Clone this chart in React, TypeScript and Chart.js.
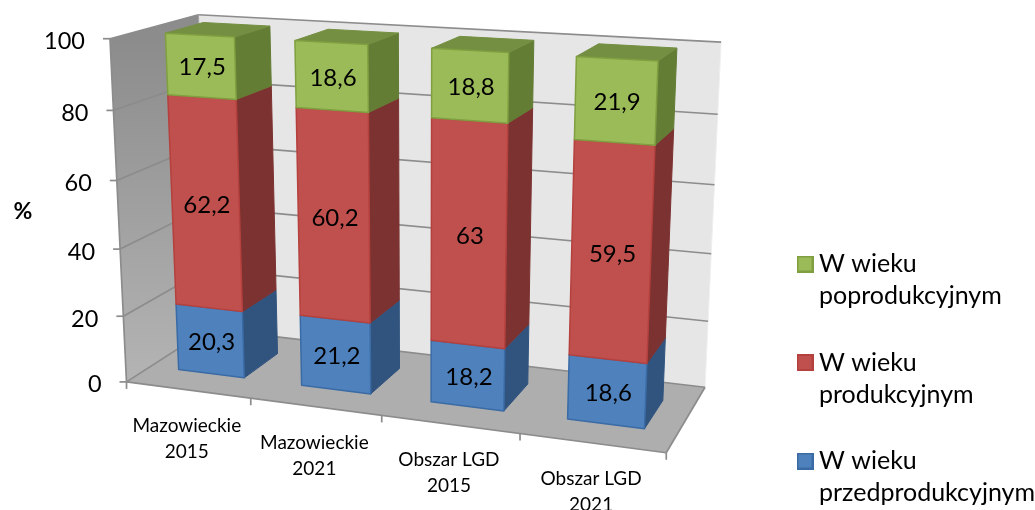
import React, { useEffect, useRef } from "react";
import { Chart, registerables } from "chart.js";

Chart.register(...registerables);

const categories = [["Mazowieckie", "2015"], ["Mazowieckie", "2021"], ["Obszar LGD", "2015"], ["Obszar LGD", "2021"]];
const przedprodukcyjny = [20.3, 21.2, 18.2, 18.6];
const produkcyjny = [62.2, 60.2, 63, 59.5];
const poprodukcyjny = [17.5, 18.6, 18.8, 21.9];
const yTicks = [0, 20, 40, 60, 80, 100];

const FONT = "Lato";
const BAR_PCT = 0.54;
const Z_FRONT = 0.28;
const Z_BACK = 0.72;

// The 3-D view: a perspective camera applied to (category, value, depth) positions.
const CAM = [
  471.126025, -22.380183, 102.976722, 126.519754,
  24.235115, -345.246761, -21.290605, 381.905733,
  -0.102983, -0.053229, 0.09675,
];

function proj(u: number, v: number, z: number): [number, number] {
  const U = u / 4, W = v / 100;
  const d = 1 + CAM[8] * U + CAM[9] * W + CAM[10] * z;
  return [
    (CAM[0] * U + CAM[1] * W + CAM[2] * z + CAM[3]) / d,
    (CAM[4] * U + CAM[5] * W + CAM[6] * z + CAM[7]) / d,
  ];
}

function poly(ctx: CanvasRenderingContext2D, pts: [number, number][], fill: any, stroke?: string, lw = 1) {
  ctx.beginPath();
  pts.forEach((p, i) => (i ? ctx.lineTo(p[0], p[1]) : ctx.moveTo(p[0], p[1])));
  ctx.closePath();
  if (fill) { ctx.fillStyle = fill; ctx.fill(); }
  if (stroke) { ctx.strokeStyle = stroke; ctx.lineWidth = lw; ctx.lineJoin = "round"; ctx.stroke(); }
}
function seg(ctx: CanvasRenderingContext2D, a: [number, number], b: [number, number], color: string, lw: number) {
  ctx.beginPath(); ctx.moveTo(a[0], a[1]); ctx.lineTo(b[0], b[1]);
  ctx.strokeStyle = color; ctx.lineWidth = lw; ctx.stroke();
}

const faces = [
  { front: "#4F81BD", side: "#31547F", top: "#3A6190", edge: "#3A6BA5" },
  { front: "#C0504D", side: "#7C3230", top: "#8F3C39", edge: "#B5413E" },
  { front: "#9BBB59", side: "#637D35", top: "#748F42", edge: "#7F9F40" },
];

const GRID = "#8C8C8C";

function swatch(fill: string, stroke: string) {
  const c = document.createElement("canvas");
  c.width = 17; c.height = 17;
  const g = c.getContext("2d")!;
  g.fillStyle = fill; g.fillRect(0, 0, 17, 17);
  g.strokeStyle = stroke; g.lineWidth = 2; g.strokeRect(1, 1, 15, 15);
  return c;
}

const view3d = {
  id: "view3d",
  afterLayout(chart: any) {
    const lg = chart.legend;
    lg.left = 769; lg.right = 1035; lg.top = 217; lg.bottom = 620;
    lg.width = lg.right - lg.left; lg.height = lg.bottom - lg.top;
  },
  beforeDraw(chart: any) {
    const { ctx, scales: { x, y } } = chart;
    x.getLabelItems(chart.chartArea).forEach((it: any, i: number) => {
      const p = proj(i + 0.5, 0, 0);
      it.options.translation = [p[0] - 1, p[1] + 36];
      it.options.textAlign = "center";
      it.options.textBaseline = "middle";
      it.textOffset = 0;
    });
    y.getLabelItems(chart.chartArea).forEach((it: any, i: number) => {
      const v = y.ticks[i].value;
      const p = proj(0, v, 0);
      it.options.translation = [p[0] - 25, p[1] + 3];
      it.options.textAlign = "right";
      it.options.textBaseline = "middle";
      it.textOffset = 0;
    });

    ctx.save();
    const a = proj(0, 100, 0), b = proj(0, 0, 0);
    const lgrad = ctx.createLinearGradient(0, a[1], 0, b[1]);
    lgrad.addColorStop(0, "#8C8C8C"); lgrad.addColorStop(1, "#B4B4B4");
    poly(ctx, [proj(0, 0, 0), proj(0, 100, 0), proj(0, 100, 1), proj(0, 0, 1)], lgrad);
    poly(ctx, [proj(0, 0, 1), proj(0, 100, 1), proj(4, 100, 1), proj(4, 0, 1)], "#E6E6E6");
    poly(ctx, [proj(0, 0, 0), proj(0, 0, 1), proj(4, 0, 1), proj(4, 0, 0)], "#AEAEAE");
    seg(ctx, proj(4, 100, 1), proj(4, 0, 1), "#EFEFEF", 1);
    yTicks.forEach((v) => {
      seg(ctx, proj(0, v, 0), proj(0, v, 1), GRID, 1.7);
      seg(ctx, proj(0, v, 1), proj(4, v, 1), GRID, 1.7);
      const p = proj(0, v, 0);
      seg(ctx, [p[0] - 7, p[1]], p, GRID, 1.7);
    });
    seg(ctx, proj(0, 0, 0), proj(0, 100, 0), GRID, 1.7);
    seg(ctx, proj(0, 100, 1), proj(0, 0, 1), "#A0A0A0", 1);
    seg(ctx, proj(0, 0, 0), proj(4, 0, 0), GRID, 1.7);
    seg(ctx, proj(4, 0, 0), proj(4, 0, 1), GRID, 1.7);
    for (let i = 0; i <= 4; i++) {
      const p = proj(i, 0, 0);
      seg(ctx, p, [p[0], p[1] + 7], GRID, 1.7);
    }
    ctx.font = `bold 23px ${FONT}`;
    ctx.fillStyle = "#000";
    ctx.textAlign = "center";
    ctx.textBaseline = "middle";
    ctx.fillText("%", 23, 212);
    ctx.restore();
  },
  beforeDatasetsDraw(chart: any) {
    const { ctx, scales: { x, y } } = chart;
    const band = x.width / categories.length;
    const toU = (px: number) => (px - x.left) / band;
    ctx.save();
    chart.data.datasets.forEach((ds: any, di: number) => {
      const f = faces[di];
      chart.getDatasetMeta(di).data.forEach((el: any) => {
        const u0 = toU(el.x - el.width / 2), u1 = toU(el.x + el.width / 2);
        const v0 = y.getValueForPixel(el.base), v1 = y.getValueForPixel(el.y);
        poly(ctx, [proj(u1, v0, Z_FRONT), proj(u1, v1, Z_FRONT), proj(u1, v1, Z_BACK), proj(u1, v0, Z_BACK)], f.side, f.side, 1);
        poly(ctx, [proj(u0, v1, Z_FRONT), proj(u1, v1, Z_FRONT), proj(u1, v1, Z_BACK), proj(u0, v1, Z_BACK)], f.top, f.top, 1);
        poly(ctx, [proj(u0, v0, Z_FRONT), proj(u1, v0, Z_FRONT), proj(u1, v1, Z_FRONT), proj(u0, v1, Z_FRONT)], f.front, f.edge, 1.5);
      });
    });
    ctx.font = `24px ${FONT}`;
    ctx.fillStyle = "#000";
    ctx.textAlign = "center";
    ctx.textBaseline = "middle";
    chart.data.datasets.forEach((ds: any, di: number) => {
      chart.getDatasetMeta(di).data.forEach((el: any, i: number) => {
        const uc = toU(el.x);
        const vc = (y.getValueForPixel(el.base) + y.getValueForPixel(el.y)) / 2;
        const p = proj(uc, vc, Z_FRONT);
        ctx.fillText(String(ds.data[i]).replace(".", ","), p[0] + 1.5, p[1] + 1.5);
      });
    });
    ctx.restore();
    return false;
  },
};

export default function App() {
  const ref = useRef<HTMLCanvasElement>(null);
  useEffect(() => {
    document.body.style.margin = "0";
    const chart = new Chart(ref.current!, {
      type: "bar",
      data: {
        labels: categories,
        datasets: [
          { label: "W wieku przedprodukcyjnym", data: przedprodukcyjny, backgroundColor: "#4F81BD", borderColor: "#3A6BA5" },
          { label: "W wieku produkcyjnym", data: produkcyjny, backgroundColor: "#C0504D", borderColor: "#B5413E" },
          { label: "W wieku poprodukcyjnym", data: poprodukcyjny, backgroundColor: "#9BBB59", borderColor: "#7F9F40" },
        ],
      },
      options: {
        animation: false,
        responsive: false,
        events: [],
        layout: { padding: { top: 40, right: 335, left: 0, bottom: 0 } },
        datasets: { bar: { barPercentage: BAR_PCT, categoryPercentage: 1 } },
        scales: {
          x: {
            stacked: true,
            grid: { display: false },
            border: { display: false },
            afterFit: (s: any) => { s.height = 127; },
            ticks: { autoSkip: false, maxRotation: 0, minRotation: 0, color: "#000", font: { family: FONT, size: 19, lineHeight: 26 / 19 } },
          },
          y: {
            stacked: true,
            min: 0,
            max: 100,
            grid: { display: false },
            border: { display: false },
            afterFit: (s: any) => { s.width = 110; },
            afterBuildTicks: (s: any) => { s.ticks = yTicks.map((value) => ({ value })); },
            ticks: { color: "#000", font: { family: FONT, size: 23.5 } },
          },
        },
        plugins: {
          tooltip: { enabled: false },
          legend: {
            display: true,
            position: "chartArea",
            align: "start",
            labels: {
              usePointStyle: true,
              pointStyleWidth: 3,
              boxHeight: 16,
              padding: 34.5,
              color: "#000",
              font: { family: FONT, size: 25, lineHeight: 32 / 25 },
              generateLabels: (c: any) =>
                c.data.datasets
                  .map((ds: any, i: number) => {
                    const words = ds.label.split(" ");
                    return {
                      text: [words.slice(0, 2).join(" "), words[2]],
                      pointStyle: swatch(ds.backgroundColor, ds.borderColor),
                      fillStyle: ds.backgroundColor,
                      strokeStyle: ds.borderColor,
                      lineWidth: 1.5,
                      hidden: false,
                      datasetIndex: i,
                    };
                  })
                  .reverse(),
            },
          },
        },
      },
      plugins: [view3d],
    } as any);
    return () => chart.destroy();
  }, []);
  return <canvas ref={ref} width={1035} height={510} style={{ display: "block", width: 1035, height: 510 }} />;
}
